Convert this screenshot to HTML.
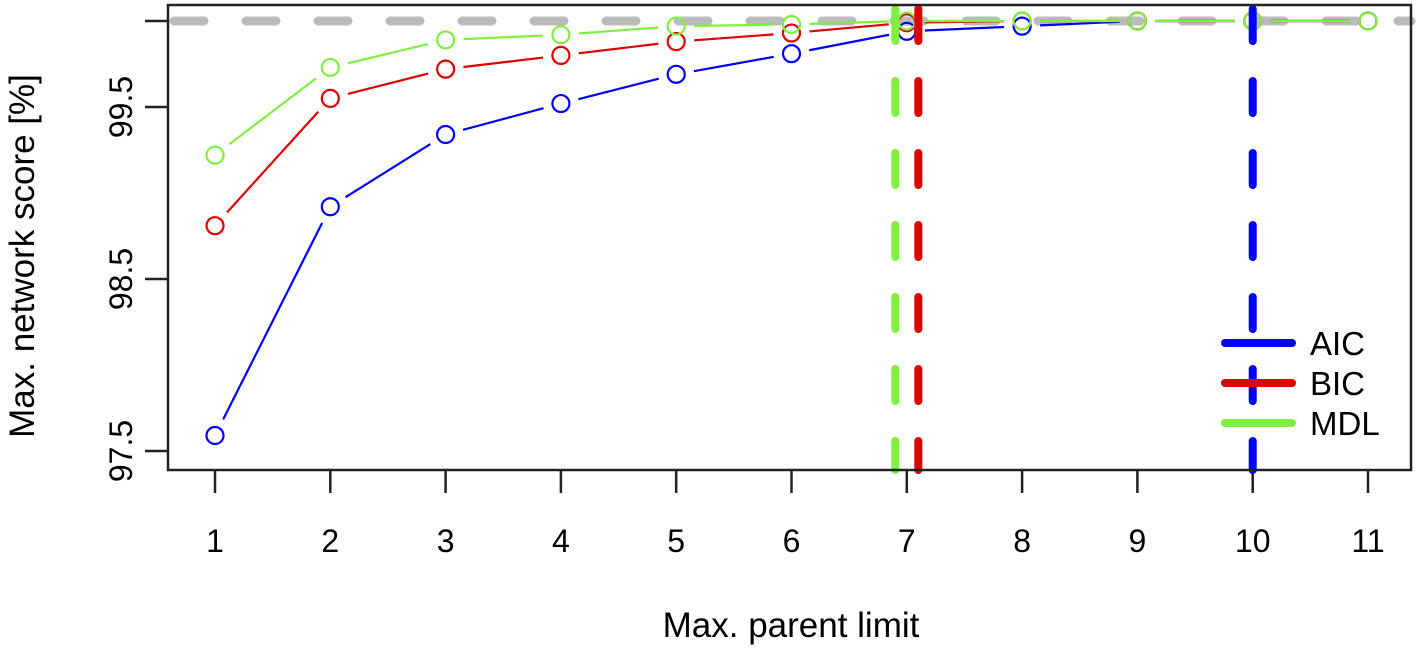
<!DOCTYPE html>
<html><head><meta charset="utf-8"><style>
html,body{margin:0;padding:0;background:#fff;}
text{font-family:"Liberation Sans",sans-serif;fill:#000;}
</style></head><body>
<svg id="chart" width="1419" height="647" xmlns="http://www.w3.org/2000/svg"></svg>
<script>
const categories = [1,2,3,4,5,6,7,8,9,10,11];
const aicValues = [97.59,98.92,99.34,99.52,99.69,99.81,99.94,99.97,100,100,100];
const bicValues = [98.81,99.55,99.72,99.80,99.88,99.93,99.99,100,100,100,100];
const mdlValues = [99.22,99.73,99.89,99.92,99.97,99.98,100,100,100,100,100];
const yTicks = [97.5,98.5,99.5,100];
const yTickLabels = ["97.5","98.5","99.5",""];
const cutoffAIC = 10, cutoffBIC = 7.1, cutoffMDL = 6.9;
const refLine = 100;

const svg = document.getElementById('chart');
const NS = 'http://www.w3.org/2000/svg';
function xs(v){return 215 + (v-1)*115.3;}
function ys(v){return 21 + (100-v)*172;}
function mk(tag, attrs, parent){const e=document.createElementNS(NS,tag);for(const k in attrs)e.setAttribute(k,attrs[k]);(parent||svg).appendChild(e);return e;}

categories.forEach(c=>{
  const t=mk('line',{x1:xs(c),x2:xs(c),y1:470,y2:493,stroke:'#222','stroke-width':2.5});
  
  
  const l=mk('text',{x:xs(c),y:552,'font-size':32,'text-anchor':'middle'});
  l.textContent=c;
  
  
});
yTicks.forEach((v,i)=>{
  const t=mk('line',{x1:145,x2:168,y1:ys(v),y2:ys(v),stroke:'#222','stroke-width':2.5});
  
  
  if(yTickLabels[i]){
    const l=mk('text',{x:0,y:0,'font-size':32,'text-anchor':'middle',transform:`translate(132,${ys(v)}) rotate(-90)`});
    l.textContent=yTickLabels[i];
    
    
  }
});

const ref=mk('line',{x1:168,x2:1411,y1:ys(refLine),y2:ys(refLine),stroke:'#bbb','stroke-width':9,'stroke-dasharray':'30 42','stroke-linecap':'round','stroke-dashoffset':'-6'});



function series(vals,color,name){
  const g=mk('g',{});
  
  
  for(let i=0;i<vals.length-1;i++){
    const x1=xs(categories[i]),y1=ys(vals[i]),x2=xs(categories[i+1]),y2=ys(vals[i+1]);
    const dx=x2-x1,dy=y2-y1,d=Math.hypot(dx,dy);
    if(d<26)continue;
    const ux=dx/d,uy=dy/d;
    const s=mk('line',{x1:x1+ux*18,y1:y1+uy*18,x2:x2-ux*18,y2:y2-uy*18,stroke:color,'stroke-width':2.2},g);
    
    
  }
  vals.forEach((v,i)=>{
    const c=mk('circle',{cx:xs(categories[i]),cy:ys(v),r:8.5,fill:'none',stroke:color,'stroke-width':2.2},g);
    
    
  });
}
series(aicValues,'#0000ff','aic');
series(bicValues,'#e00000','bic');
series(mdlValues,'#80f040','mdl');

function vline(v,color,name){
  const l=mk('line',{x1:xs(v),x2:xs(v),y1:9,y2:470,stroke:color,'stroke-width':8,'stroke-dasharray':'32 40','stroke-linecap':'round'});
  
  
}
vline(cutoffMDL,'#80f040','mdl-cutoff-line');
vline(cutoffBIC,'#e00000','bic-cutoff-line');
vline(cutoffAIC,'#0000ff','aic-cutoff-line');

const box=mk('rect',{x:168,y:5,width:1243,height:465,fill:'none',stroke:'#222','stroke-width':2.5});



const lg=mk('g',{});


[['AIC','#0000ff',343],['BIC','#e00000',383],['MDL','#80f040',423]].forEach(([n,c,y])=>{
  const l=mk('line',{x1:1225,x2:1292,y1:y,y2:y,stroke:c,'stroke-width':8,'stroke-linecap':'round'},lg);
  
  
  const t=mk('text',{x:1310,y:y+12,'font-size':33},lg);
  t.textContent=n;
  
  
});

const xt=mk('text',{x:791,y:637,'font-size':35,'text-anchor':'middle'});
xt.textContent='Max. parent limit';


const yt=mk('text',{x:0,y:0,'font-size':35,'text-anchor':'middle',transform:'translate(34,256) rotate(-90)'});
yt.textContent='Max. network score [%]';


</script>
</body></html>
